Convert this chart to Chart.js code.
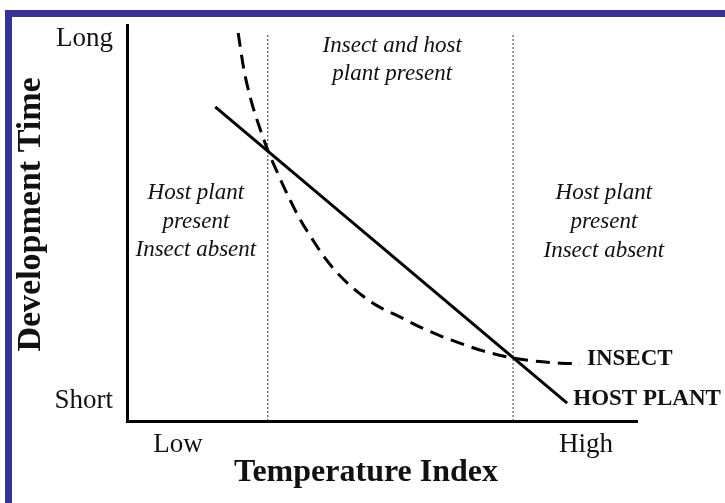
<!DOCTYPE html>
<html>
<head>
<meta charset="utf-8">
<script src="https://cdn.jsdelivr.net/npm/chart.js@4/dist/chart.umd.min.js"></script>
<style>
  html, body { margin: 0; padding: 0; background: #fff; }
  #wrap { position: relative; width: 725px; height: 503px; overflow: hidden; }
  #frame { position: absolute; left: 5px; top: 10px; right: 0; bottom: 0;
           border-top: 7px solid #333399; border-left: 7px solid #333399; pointer-events: none; }
  canvas { position: absolute; left: 0; top: 0; }
</style>
</head>
<body>
<div id="wrap">
  <canvas id="c" width="725" height="503"></canvas>
  <div id="frame"></div>
</div>
<script>
// ---- data (axes are 0..100 index units) ----
const insectX = [21.8, 22.9, 24.3, 25.9, 27.6, 29.6, 31.6, 33.9, 36.3, 38.8, 42.2, 45.7, 49.2, 53.5, 57.5, 62.0, 66.3, 69.8, 75.7, 79.4, 83.9, 88.8];
const insectY = [98.0, 88.9, 81.1, 74.5, 68.4, 62.4, 56.8, 51.0, 46.0, 41.2, 36.1, 32.1, 29.0, 26.3, 23.7, 21.2, 19.2, 17.7, 15.9, 15.2, 14.7, 14.4];
const hostX = [17.3, 86.3];
const hostY = [79.3, 4.5];
const boundaryX = [27.6, 75.7];
const boundaryY = [0, 98];
const xTickValues = [10, 90];
const xTickLabels = ['Low', 'High'];
const yTickValues = [96.5, 5];
const yTickLabels = ['Long', 'Short'];
const xTitle = 'Temperature Index';
const yTitle = 'Development Time';
const seriesNames = ['INSECT', 'HOST PLANT'];
const regionTexts = [
  ['Host plant', 'present', 'Insect absent'],
  ['Insect and host', 'plant present'],
  ['Host plant', 'present', 'Insect absent']
];

// ---- layout of annotations (data coords) ----
const regionAnchors = [
  { x: 13.5, y: [57.6, 50.3, 43.2] },
  { x: 52.0, y: [94.8, 87.7] },
  { x: 93.5, y: [57.6, 50.2, 42.9] }
];
const seriesLabelAnchors = [ { x: 90.2, y: 15.7 }, { x: 87.5, y: 5.6 } ];

const zip = (xs, ys) => xs.map((x, i) => ({ x, y: ys[i] }));

const datasets = [
  { label: seriesNames[1], data: zip(hostX, hostY), borderColor: '#000', borderWidth: 3, pointRadius: 0, fill: false },
  { label: seriesNames[0], data: zip(insectX, insectY), borderColor: '#000', borderWidth: 3, borderDash: [14, 8],
    pointRadius: 0, fill: false, cubicInterpolationMode: 'monotone' }
];
boundaryX.forEach(bx => {
  datasets.push({ label: 'boundary', data: boundaryY.map(y => ({ x: bx, y })), borderColor: '#333', borderWidth: 1,
    borderDash: [2, 2], pointRadius: 0, fill: false });
});

const textPlugin = {
  id: 'texts',
  afterDraw(chart) {
    const ctx = chart.ctx, xs = chart.scales.x, ys = chart.scales.y;
    ctx.save();
    ctx.fillStyle = '#111';
    ctx.textAlign = 'center';
    ctx.textBaseline = 'middle';
    ctx.font = 'italic 23px "Liberation Serif"';
    regionTexts.forEach((lines, i) => {
      const a = regionAnchors[i];
      lines.forEach((t, j) => ctx.fillText(t, xs.getPixelForValue(a.x), ys.getPixelForValue(a.y[j])));
    });
    ctx.textAlign = 'left';
    ctx.font = 'bold 23px "Liberation Serif"';
    seriesNames.forEach((t, i) => {
      const a = seriesLabelAnchors[i];
      ctx.fillText(t, xs.getPixelForValue(a.x), ys.getPixelForValue(a.y));
    });
    ctx.restore();
  }
};

new Chart(document.getElementById('c'), {
  type: 'line',
  data: { datasets },
  options: {
    responsive: false,
    animation: false,
    layout: { padding: { top: 25, right: 88, bottom: 0, left: 0 } },
    plugins: { legend: { display: false }, tooltip: { enabled: false } },
    scales: {
      x: {
        type: 'linear', min: 0, max: 100,
        grid: { display: false, drawTicks: false },
        border: { display: true, color: '#000', width: 3 },
        afterBuildTicks: s => { s.ticks = xTickValues.map(v => ({ value: v })); },
        afterFit: s => { s.height = 82; s.paddingLeft = 0; s.paddingRight = 0; },
        ticks: { autoSkip: false, padding: 8, color: '#111', font: { family: 'Liberation Serif', size: 27 },
                 callback: v => xTickLabels[xTickValues.indexOf(v)] },
        title: { display: true, text: xTitle + '\u2002\u2002', color: '#111', padding: { bottom: 11 },
                 font: { family: 'Liberation Serif', size: 32, weight: 'bold' } }
      },
      y: {
        type: 'linear', min: 0, max: 100,
        grid: { display: false, drawTicks: false },
        border: { display: true, color: '#000', width: 3 },
        afterBuildTicks: s => { s.ticks = yTickValues.map(v => ({ value: v })); },
        afterFit: s => { s.width = 127; s.paddingTop = 0; s.paddingBottom = 0; },
        ticks: { autoSkip: false, padding: 14, color: '#111', font: { family: 'Liberation Serif', size: 27 },
                 callback: v => yTickLabels[yTickValues.indexOf(v)] },
        title: { display: true, text: '\u2002' + yTitle, color: '#111', padding: { top: 11 },
                 font: { family: 'Liberation Serif', size: 34, weight: 'bold' } }
      }
    }
  },
  plugins: [textPlugin]
});
</script>
</body>
</html>
